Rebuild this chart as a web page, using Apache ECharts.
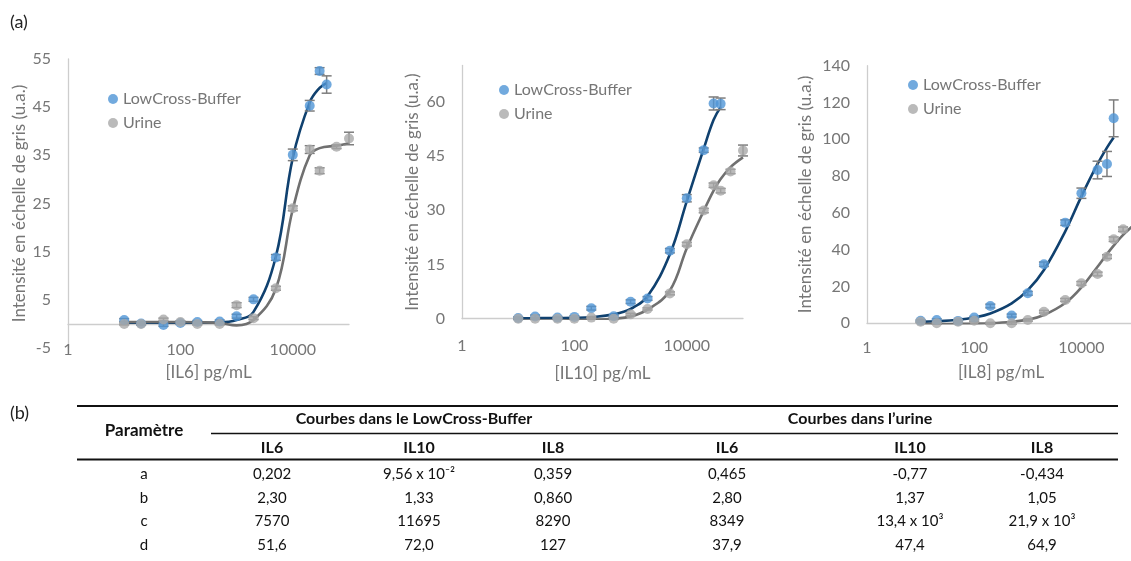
<!DOCTYPE html>
<html>
<head>
<meta charset="utf-8">
<script src="https://cdn.jsdelivr.net/npm/echarts@6/dist/echarts.min.js"></script>
<style>
  html, body { margin: 0; padding: 0; background: #fff; }
  #chart { width: 1131px; height: 561px; }
</style>
</head>
<body>
<div id="chart"></div>
<script>
// concentrations (pg/mL), shared by all three panels
const conc = [10, 20, 50, 100, 200, 500, 1000, 2000, 5000, 10000, 20000, 30000, 40000, 60000, 100000];
const xTickLabels = ['1', '100', '10000'];

// IL6
const il6Buffer = [0.8, 0.1, -0.2, 0.2, 0.4, 0.5, 1.6, 5.1, 13.8, 35.1, 45.3, 52.5, 49.7, null, null];
const il6BufferErr = [0.3, 0.3, 0.3, 0.3, 0.3, 0.3, 0.4, 0.4, 0.6, 1.2, 1.1, 0.7, 1.8, null, null];
const il6Urine = [0, 0, 0.9, 0.4, 0, 0, 3.9, 1.2, 7.4, 24.0, 36.2, 31.8, null, 36.8, 38.5];
const il6UrineErr = [0.2, 0.2, 0.3, 0.2, 0.2, 0.2, 0.5, 0.3, 0.4, 0.5, 0.8, 0.6, null, 0.4, 1.3];
const il6BufferFit = [0.25, 0.25, 0.25, 0.25, 0.25, 0.3, 0.8, 2.5, 14.0, 34.5, 46.0, 49.0, 50.0, null, null];
const il6UrineFit = [0.4, 0.4, 0.4, 0.4, 0.35, 0.2, -0.3, 0.8, 7.3, 23.8, 35.0, 36.5, null, 37.0, 37.5];

// IL10
const il10Buffer = [0.2, 0.6, 0.3, 0.5, 2.9, 0.7, 4.7, 5.6, 18.8, 33.3, 46.6, 59.5, 59.4, null, null];
const il10BufferErr = [0.3, 0.4, 0.3, 0.3, 0.5, 0.3, 0.5, 0.5, 0.6, 1.0, 0.6, 1.8, 1.6, null, null];
const il10Urine = [0, 0, 0, 0, 0.3, 0, 1.2, 2.7, 7.0, 20.6, 29.9, 36.9, 35.4, 40.7, 46.5];
const il10UrineErr = [0.2, 0.2, 0.2, 0.2, 0.2, 0.2, 0.3, 0.3, 0.4, 0.5, 0.6, 0.6, 0.6, 0.6, 1.5];
const il10BufferFit = [0.1, 0.15, 0.2, 0.25, 0.45, 1.2, 2.7, 6.2, 17.8, 32.5, 47.0, 55.0, 58.5, null, null];
const il10UrineFit = [-0.5, -0.5, -0.5, -0.4, -0.3, 0, 0.6, 2.5, 7.8, 19.5, 29.8, 35.4, 38.6, 41.9, 44.6];

// IL8
const il8Buffer = [1.4, 1.8, 1.3, 3.1, 9.4, 4.2, 16.3, 32.1, 54.7, 70.7, 83.3, 86.6, 111.4, null, null];
const il8BufferErr = [0.6, 0.6, 0.6, 0.6, 1.0, 0.8, 1.0, 1.2, 1.5, 2.8, 4.8, 6.8, 10.0, null, null];
const il8Urine = [0.9, 0, 0.9, 1.4, 0, 0, 1.8, 6.3, 12.7, 21.7, 26.8, 36.2, 45.7, 51.1, null];
const il8UrineErr = [0.5, 0.5, 0.5, 0.5, 0.5, 0.5, 0.6, 0.7, 0.8, 1.0, 1.0, 1.0, 1.2, 1.2, null];
const il8BufferFit = [0.8, 1.1, 1.9, 3.1, 5.3, 10.8, 18.0, 29.0, 50.0, 69.0, 86.6, 95.5, 101.0, null, null];
const il8UrineFit = [-0.4, -0.4, -0.3, -0.2, 0, 0.8, 2.0, 4.5, 11.0, 19.5, 30.7, 37.6, 42.2, 48.1, 53.9];

// table (b)
const tableGroups = ['Courbes dans le LowCross-Buffer', 'Courbes dans l’urine'];
const tableCols = ['IL6', 'IL10', 'IL8', 'IL6', 'IL10', 'IL8'];
const tableParams = ['a', 'b', 'c', 'd'];
const tableValues = [
  ['0,202', '9,56 x 10⁻²', '0,359', '0,465', '-0,77', '-0,434'],
  ['2,30', '1,33', '0,860', '2,80', '1,37', '1,05'],
  ['7570', '11695', '8290', '8349', '13,4 x 10³', '21,9 x 10³'],
  ['51,6', '72,0', '127', '37,9', '47,4', '64,9']
];

const FONT = 'Lato, "Open Sans", sans-serif';
const TXT = '#767676';
const AXIS = '#cdcdcd';
const BLUE = '#4f95d6';
const GREY = '#a9a9a9';
const NAVY = '#10416f';
const DARKGREY = '#707070';

const pairs = vals => conc.map((c, i) => [c, vals[i]]).filter(p => p[1] != null);
const errPairs = (vals, errs) => conc.map((c, i) => [c, vals[i], errs[i]]).filter(p => p[1] != null && p[2] != null);

const panels = [
  { xName: '[IL6] pg/mL', grid: { left: 68, top: 59, width: 281, height: 289 }, yMin: -5, yMax: 55, yStep: 10, showMax: true,
    xLabelMargin: -6, xNameGap: 16, yNameGap: 40, legend: [103, 86], zeroLine: true,
    buffer: il6Buffer, bufferErr: il6BufferErr, urine: il6Urine, urineErr: il6UrineErr, bufferFit: il6BufferFit, urineFit: il6UrineFit },
  { xName: '[IL10] pg/mL', grid: { left: 462, top: 65.5, width: 281, height: 253.2 }, yMin: 0, yMax: 70, yStep: 15, showMax: false,
    xLabelMargin: 19, xNameGap: 46, yNameGap: 41, legend: [494, 77],
    buffer: il10Buffer, bufferErr: il10BufferErr, urine: il10Urine, urineErr: il10UrineErr, bufferFit: il10BufferFit, urineFit: il10UrineFit },
  { xName: '[IL8] pg/mL', grid: { left: 867, top: 65.7, width: 268, height: 257.6 }, yMin: 0, yMax: 140, yStep: 20, showMax: true,
    xLabelMargin: 17, xNameGap: 41, yNameGap: 53, legend: [903, 72],
    buffer: il8Buffer, bufferErr: il8BufferErr, urine: il8Urine, urineErr: il8UrineErr, bufferFit: il8BufferFit, urineFit: il8UrineFit }
];

function renderErr(params, api) {
  const x = api.value(0), y = api.value(1), e = api.value(2);
  const hi = api.coord([x, y + e]);
  const lo = api.coord([x, y - e]);
  const w = 5;
  const style = { stroke: '#7d7d7d', lineWidth: 1.5 };
  return {
    type: 'group',
    children: [
      { type: 'line', shape: { x1: hi[0], y1: hi[1], x2: lo[0], y2: lo[1] }, style },
      { type: 'line', shape: { x1: hi[0] - w, y1: hi[1], x2: hi[0] + w, y2: hi[1] }, style },
      { type: 'line', shape: { x1: lo[0] - w, y1: lo[1], x2: lo[0] + w, y2: lo[1] }, style }
    ]
  };
}

const grids = [], xAxes = [], yAxes = [], series = [], legends = [];

panels.forEach((p, gi) => {
  grids.push(Object.assign({ outerBoundsMode: 'none', containLabel: false }, p.grid));

  const xIndex = xAxes.length;
  xAxes.push({
    type: 'log', logBase: 10, min: 1, max: 100000, gridIndex: gi, position: 'bottom',
    name: p.xName, nameLocation: 'middle', nameGap: p.xNameGap,
    nameTextStyle: { fontFamily: FONT, fontSize: 17, color: TXT },
    axisLine: { show: !p.zeroLine, onZero: false, lineStyle: { color: AXIS, width: 1.3 } },
    axisTick: { show: false },
    splitLine: { show: false },
    axisLabel: {
      margin: p.xLabelMargin, fontFamily: FONT, fontSize: 16, color: TXT,
      formatter: v => {
        const s = String(Math.round(v));
        return xTickLabels.includes(s) ? s : '';
      }
    }
  });
  if (p.zeroLine) {
    // x axis line sitting on y = 0, labels stay at the bottom
    xAxes.push({
      type: 'log', logBase: 10, min: 1, max: 100000, gridIndex: gi, position: 'bottom',
      axisLine: { show: true, onZero: true, lineStyle: { color: AXIS, width: 1.3 } },
      axisTick: { show: false }, axisLabel: { show: false }, splitLine: { show: false }
    });
  }

  yAxes.push({
    type: 'value', gridIndex: gi, min: p.yMin, max: p.yMax, interval: p.yStep,
    name: 'Intensité en échelle de gris (u.a.)', nameLocation: 'middle', nameGap: p.yNameGap,
    nameTextStyle: { fontFamily: FONT, fontSize: 17, color: TXT },
    axisLine: { show: true, onZero: false, lineStyle: { color: AXIS, width: 1.3 } },
    axisTick: { show: false },
    splitLine: { show: false },
    axisLabel: { margin: 17, fontFamily: FONT, fontSize: 16, color: TXT, showMaxLabel: p.showMax }
  });

  const base = { xAxisIndex: xIndex, yAxisIndex: gi };
  series.push(
    Object.assign({ type: 'line', name: 'fit-buffer-' + gi, data: pairs(p.bufferFit), smooth: 0.4, showSymbol: false,
      lineStyle: { color: NAVY, width: 2.6 }, z: 2, silent: true }, base),
    Object.assign({ type: 'line', name: 'fit-urine-' + gi, data: pairs(p.urineFit), smooth: 0.4, showSymbol: false,
      lineStyle: { color: DARKGREY, width: 2.6 }, z: 2, silent: true }, base),
    Object.assign({ type: 'custom', name: 'err-buffer-' + gi, data: errPairs(p.buffer, p.bufferErr), renderItem: renderErr,
      encode: { x: 0, y: 1 }, z: 3, silent: true }, base),
    Object.assign({ type: 'custom', name: 'err-urine-' + gi, data: errPairs(p.urine, p.urineErr), renderItem: renderErr,
      encode: { x: 0, y: 1 }, z: 3, silent: true }, base),
    Object.assign({ type: 'scatter', name: 'LowCross-Buffer', data: pairs(p.buffer), symbol: 'circle', symbolSize: 10,
      itemStyle: { color: BLUE }, z: 4 }, base),
    Object.assign({ type: 'scatter', name: 'Urine', data: pairs(p.urine), symbol: 'circle', symbolSize: 10,
      itemStyle: { color: GREY }, z: 5 }, base)
  );

  legends.push({
    left: p.legend[0], top: p.legend[1], orient: 'vertical', icon: 'circle',
    itemWidth: 10, itemHeight: 10, itemGap: 8, selectedMode: false,
    data: ['LowCross-Buffer', 'Urine'],
    textStyle: { fontFamily: FONT, fontSize: 16, lineHeight: 16, color: TXT }
  });
});

// table layout
const colX = [272, 419, 553, 727, 910, 1042];
const groupX = [414, 860];
const rowY = [474, 498, 521.5, 545];
const LINE_L = 77, LINE_R = 1118;
const graphics = [];
const txt = (text, x, y, font) => ({
  type: 'text', x, y, silent: true,
  style: { text, fill: '#111', font, align: 'center', verticalAlign: 'middle' }
});
graphics.push({ type: 'text', x: 10, y: 22, silent: true,
  style: { text: '(a)', fill: '#222', font: '18px ' + FONT, align: 'left', verticalAlign: 'middle' } });
graphics.push({ type: 'text', x: 10, y: 413, silent: true,
  style: { text: '(b)', fill: '#222', font: '18px ' + FONT, align: 'left', verticalAlign: 'middle' } });
graphics.push({ type: 'line', silent: true, shape: { x1: LINE_L, y1: 406, x2: LINE_R, y2: 406 }, style: { stroke: '#111', lineWidth: 2 } });
graphics.push({ type: 'line', silent: true, shape: { x1: 211, y1: 433.5, x2: LINE_R, y2: 433.5 }, style: { stroke: '#111', lineWidth: 1.5 } });
graphics.push({ type: 'line', silent: true, shape: { x1: LINE_L, y1: 459.5, x2: LINE_R, y2: 459.5 }, style: { stroke: '#111', lineWidth: 2 } });
graphics.push(txt('Paramètre', 144, 431, 'bold 17px ' + FONT));
tableGroups.forEach((g, i) => graphics.push(txt(g, groupX[i], 418.5, 'bold 16px ' + FONT)));
tableCols.forEach((c, i) => graphics.push(txt(c, colX[i], 447.5, 'bold 16px ' + FONT)));
tableParams.forEach((r, ri) => {
  graphics.push(txt(r, 144, rowY[ri], '15px ' + FONT));
  tableValues[ri].forEach((v, ci) => graphics.push(txt(v, colX[ci], rowY[ri], '15px ' + FONT)));
});

const chart = echarts.init(document.getElementById('chart'));
const option = {
  animation: false,
  backgroundColor: '#fff',
  grid: grids,
  xAxis: xAxes,
  yAxis: yAxes,
  legend: legends,
  series: series,
  graphic: graphics
};
chart.setOption(option);
window.addEventListener('resize', () => chart.resize());
</script>
</body>
</html>
